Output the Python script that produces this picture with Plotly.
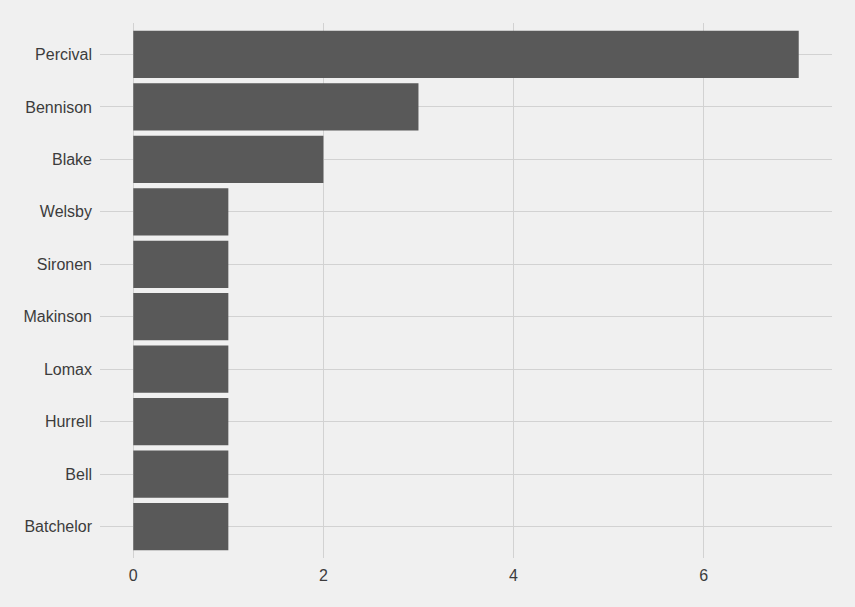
import plotly.graph_objects as go

names = ["Batchelor", "Bell", "Hurrell", "Lomax", "Makinson",
         "Sironen", "Welsby", "Blake", "Bennison", "Percival"]
counts = [1, 1, 1, 1, 1, 1, 1, 2, 3, 7]

bg = "#F0F0F0"
grid = "#D2D2D2"
txt = "#3C3C3C"

fig = go.Figure(go.Bar(
    x=counts, y=names, orientation="h",
    marker=dict(color="#595959", line=dict(width=0)),
    width=0.9,
))

# page body has an 8px margin, so margins are shifted to compensate
fig.update_layout(
    width=855, height=607,
    paper_bgcolor=bg, plot_bgcolor=bg,
    margin=dict(l=92, r=31, t=15, b=57),
    font=dict(family="Liberation Sans, Arial, sans-serif", size=16, color=txt),
    showlegend=False,
)
fig.update_xaxes(
    range=[-0.35, 7.35], tickvals=[0, 2, 4, 6],
    showgrid=True, gridcolor=grid, gridwidth=1,
    zeroline=False, showline=False, ticks="", ticklabelstandoff=6,
)
fig.update_yaxes(
    categoryorder="array", categoryarray=names,
    range=[-0.6, 9.6],
    showgrid=True, gridcolor=grid, gridwidth=1,
    zeroline=False, showline=False, ticks="", ticklabelstandoff=7,
)

fig.write_html("out.html",
               post_script="document.body.style.background='%s';" % bg)
